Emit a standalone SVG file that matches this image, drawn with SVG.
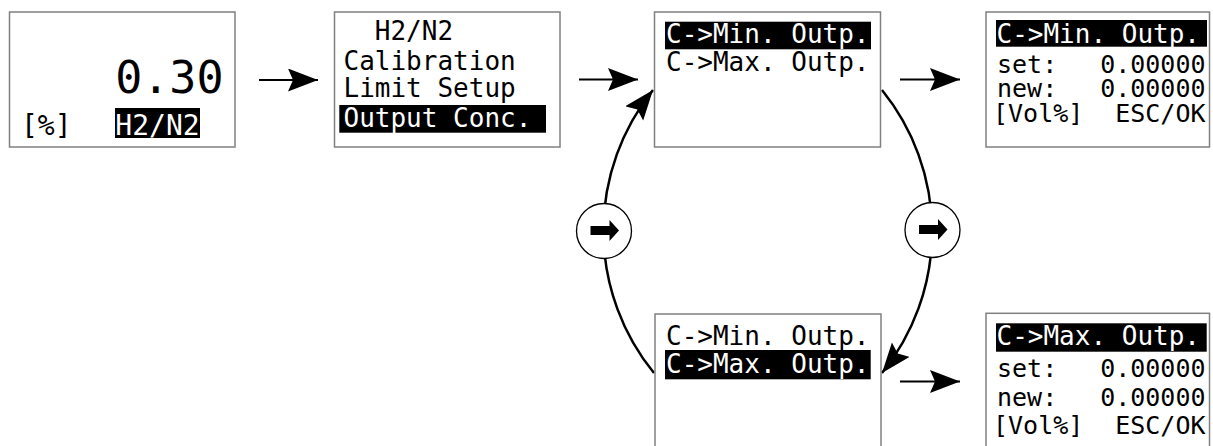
<svg xmlns="http://www.w3.org/2000/svg" width="1213" height="446" viewBox="0 0 1213 446">
<style>
.box{fill:#fff;stroke:#808080;stroke-width:1.5}
.t{font-family:"DejaVu Sans Mono",monospace;font-size:26px;fill:#000}
.v{font-size:25px}
.w{fill:#fff}
.hl{fill:#000}
.con{fill:none;stroke:#000;stroke-width:2}
.arc{fill:none;stroke:#000;stroke-width:2.5}
.circ{fill:#fff;stroke:#000;stroke-width:1.3}
</style>
<defs>
<marker id="ah" markerUnits="userSpaceOnUse" markerWidth="32" markerHeight="24" refX="30" refY="11.5" orient="auto" viewBox="0 0 32 24">
<path d="M0,0 L30,11.5 L0,23 L5,11.5 z" fill="#000"/>
</marker>
<polygon id="blk" points="-14,-4.5 5,-4.5 5,-10.5 14.5,0 5,10.5 5,4.5 -14,4.5" fill="#000"/>
</defs>

<g id="connectors">
<line class="con" x1="259" y1="80" x2="318" y2="80" marker-end="url(#ah)"/>
<line class="con" x1="579" y1="79.5" x2="638" y2="79.5" marker-end="url(#ah)"/>
<line class="con" x1="900" y1="79.5" x2="960" y2="79.5" marker-end="url(#ah)"/>
<line class="con" x1="900" y1="381.5" x2="960" y2="381.5" marker-end="url(#ah)"/>
<path class="arc" d="M654,373 A225,225 0 0 1 653,90" marker-end="url(#ah)"/>
<path class="arc" d="M882,90 A225,225 0 0 1 882,373" marker-end="url(#ah)"/>
</g>

<g id="step-left">
<circle class="circ" cx="604" cy="231" r="27.5"/>
<use href="#blk" x="604.5" y="230.5"/>
</g>
<g id="step-right">
<circle class="circ" cx="932.5" cy="230" r="27.5"/>
<use href="#blk" x="933" y="229.5"/>
</g>

<g id="screen-main">
<rect class="box" x="9.5" y="12" width="225.5" height="135"/>
<text class="t" x="223.5" y="93" text-anchor="end" style="font-size:45px">0.30</text>
<text class="t" x="21" y="135" style="font-size:28px">[%]</text>
<rect class="hl" x="115" y="108" width="85" height="30"/>
<text class="t w" x="157.5" y="134.5" text-anchor="middle" style="font-size:28px">H2/N2</text>
</g>

<g id="screen-menu">
<rect class="box" x="334.5" y="12" width="225.5" height="135"/>
<text class="t" x="343.5" y="40" xml:space="preserve">  H2/N2</text>
<text class="t" x="343.5" y="70">Calibration</text>
<text class="t" x="343.5" y="96.5">Limit Setup</text>
<rect class="hl" x="339.3" y="105" width="206.7" height="27.7"/>
<text class="t w" x="343.5" y="127">Output Conc.</text>
</g>

<g id="screen-output-min">
<rect class="box" x="654.5" y="12" width="226" height="135"/>
<rect class="hl" x="665" y="21.7" width="206" height="27.6"/>
<text class="t w" x="666" y="43.3">C-&gt;Min. Outp.</text>
<text class="t" x="666" y="70.7">C-&gt;Max. Outp.</text>
</g>

<g id="screen-output-max">
<rect class="box" x="655" y="314" width="226" height="140"/>
<text class="t" x="666" y="345">C-&gt;Min. Outp.</text>
<rect class="hl" x="665" y="350" width="205.7" height="29.3"/>
<text class="t w" x="666" y="373">C-&gt;Max. Outp.</text>
</g>

<g id="set-min">
<rect class="box" x="986" y="12" width="223.5" height="135"/>
<rect class="hl" x="996" y="20" width="211" height="26.7"/>
<text class="t w" x="996.5" y="43.3">C-&gt;Min. Outp.</text>
<text class="t v" x="997" y="73">set:</text>
<text class="t v" x="1205.5" y="73" text-anchor="end">0.00000</text>
<text class="t v" x="997" y="97.3">new:</text>
<text class="t v" x="1205.5" y="97.3" text-anchor="end">0.00000</text>
<text class="t v" x="993" y="122">[Vol%]</text>
<text class="t v" x="1205.5" y="122" text-anchor="end">ESC/OK</text>
</g>

<g id="set-max">
<rect class="box" x="986" y="313.3" width="223.5" height="140"/>
<rect class="hl" x="996" y="323.3" width="210.7" height="28.4"/>
<text class="t w" x="996.5" y="345">C-&gt;Max. Outp.</text>
<text class="t v" x="997" y="376.7">set:</text>
<text class="t v" x="1205.5" y="376.7" text-anchor="end">0.00000</text>
<text class="t v" x="997" y="406">new:</text>
<text class="t v" x="1205.5" y="406" text-anchor="end">0.00000</text>
<text class="t v" x="993" y="434">[Vol%]</text>
<text class="t v" x="1205.5" y="434" text-anchor="end">ESC/OK</text>
</g>
</svg>
